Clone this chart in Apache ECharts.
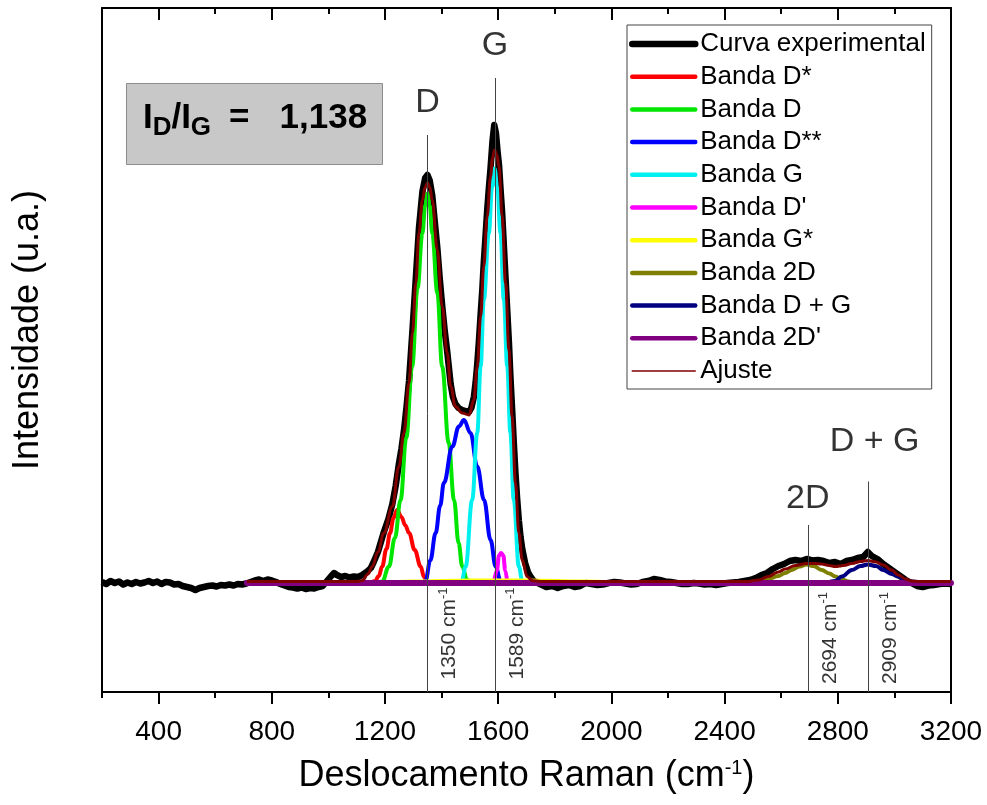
<!DOCTYPE html>
<html>
<head>
<meta charset="utf-8">
<title>Espectro Raman</title>
<script src="https://cdn.jsdelivr.net/npm/echarts@6/dist/echarts.min.js"></script>
<style>
  html, body { margin: 0; padding: 0; background: #fff; }
  #chart { width: 987px; height: 805px; }
</style>
</head>
<body>
<div id="chart"></div>
<script>
// Eixo x: deslocamento Raman (cm-1); eixo y: intensidade (u.a.), linha de base = 0
const xMin = 200;
const xMax = 3200;
const yMin = -218;
const yMax = 1150;
const majorTicks = [400, 800, 1200, 1600, 2000, 2400, 2800, 3200];

// curva experimental [cm-1, intensidade]
const experimental = [
  [200,2],[215,-2],[230,4],[245,0],[260,3],[275,-3],[290,1],[305,-2],[320,2],[335,-1],[350,1],[365,4],[380,0],[395,3],
  [410,-2],[425,2],[440,1],[455,-3],[470,-2],[485,-6],[500,-8],[515,-10],[530,-14],[545,-10],[560,-8],[575,-6],[590,-5],
  [605,-7],[620,-4],[635,-5],[650,-3],[665,-5],[680,-2],[695,-3],[710,-1],[725,2],[740,5],[755,7],[770,4],[785,7],[800,5],
  [815,2],[830,-2],[845,-5],[860,-8],[875,-9],[890,-11],[905,-9],[920,-12],[935,-10],[950,-11],[965,-8],[980,-6],[995,4],
  [1010,14],[1020,20],[1030,16],[1045,12],[1060,14],[1075,11],[1090,13],[1105,12],[1120,16],[1135,22],[1150,30],[1160,42],
  [1175,62],[1196,102],[1212,128],[1226,158],[1238,195],[1249,238],[1258,268],[1267,305],[1276,352],[1285,405],[1297,505],
  [1309,610],[1320,710],[1332,782],[1342,810],[1350,816],[1358,805],[1367,775],[1376,722],[1385,670],[1393,612],[1402,555],
  [1411,505],[1420,462],[1432,398],[1440,372],[1449,358],[1460,350],[1473,346],[1485,344],[1497,342],[1505,350],[1514,372],
  [1520,400],[1526,438],[1532,485],[1538,538],[1544,588],[1549,640],[1555,692],[1561,745],[1567,790],[1573,830],[1580,885],
  [1586,916],[1592,900],[1598,862],[1603,835],[1608,790],[1614,740],[1620,675],[1626,610],[1632,545],[1638,480],[1643,415],
  [1649,350],[1655,282],[1661,220],[1667,168],[1673,125],[1679,92],[1685,68],[1695,40],[1705,22],[1715,12],[1725,4],
  [1740,0],[1755,-4],[1770,-8],[1790,-6],[1810,-10],[1830,-6],[1850,-4],[1870,-8],[1890,-6],[1910,0],[1930,-2],[1950,-4],
  [1970,-3],[1990,0],[2010,2],[2030,1],[2050,-1],[2070,-3],[2090,-2],[2110,2],[2130,4],[2150,8],[2170,6],[2190,3],[2210,2],
  [2230,0],[2250,-2],[2270,-2],[2290,0],[2310,-1],[2330,-3],[2350,-2],[2370,-4],[2390,-2],[2410,0],[2430,1],[2450,2],
  [2470,4],[2490,6],[2510,10],[2530,16],[2550,20],[2570,28],[2590,34],[2610,38],[2630,44],[2650,46],[2670,44],[2690,48],
  [2710,45],[2730,46],[2750,44],[2770,40],[2790,42],[2810,38],[2830,44],[2850,46],[2870,50],[2890,52],[2906,62],[2920,54],
  [2940,48],[2960,38],[2980,30],[3000,22],[3020,14],[3040,6],[3060,0],[3080,-6],[3100,-8],[3120,-5],[3140,-4],[3160,-2],
  [3180,-1],[3200,-2]
];

// bandas ajustadas
const bandaDStar = [[1150,0],[1165,4],[1178,14],[1190,33],[1205,68],[1218,100],[1230,130],[1243,146],[1258,132],[1272,115],
  [1285,100],[1305,66],[1326,33],[1338,12],[1348,2],[1360,0]];
const bandaD = [[1170,0],[1190,3],[1214,33],[1235,90],[1255,166],[1275,290],[1296,433],[1315,590],[1332,699],[1342,755],
  [1350,779],[1358,755],[1367,699],[1385,580],[1402,433],[1425,280],[1444,166],[1460,80],[1473,33],[1490,6],[1510,0]];
const bandaDDouble = [[1330,0],[1343,4],[1360,45],[1379,100],[1395,155],[1408,200],[1438,273],[1461,313],[1479,326],
  [1502,300],[1526,233],[1550,166],[1573,86],[1591,33],[1608,5],[1620,0]];
const bandaG = [[1460,0],[1471,4],[1485,33],[1508,166],[1526,300],[1538,433],[1549,566],[1567,700],[1578,790],[1587,829],
  [1597,790],[1608,700],[1620,566],[1632,433],[1643,300],[1655,166],[1673,33],[1685,4],[1695,0]];
const bandaDPrime = [[1585,0],[1595,25],[1603,55],[1610,60],[1618,55],[1625,25],[1632,0]];
const bandaGStar = [[712,0],[1150,0],[1300,3],[1500,5],[1700,5],[1900,3],[2100,0],[3200,0]];
const banda2D = [[2480,0],[2520,3],[2554,8],[2590,14],[2614,20],[2637,26],[2665,33],[2690,37],[2715,34],[2743,26],
  [2770,19],[2791,13],[2815,7],[2838,3],[2860,0]];
const bandaDG = [[2760,0],[2790,4],[2814,13],[2850,26],[2880,34],[2906,37],[2935,34],[2961,26],[2990,18],[3014,13],
  [3040,6],[3061,3],[3100,0]];
const banda2DPrime = [[712,0],[1200,0],[1700,0],[2200,0],[2700,0],[3200,0]];
const ajuste = [[712,3],[1000,3],[1100,3],[1120,5],[1140,18],[1155,33],[1175,62],[1196,100],[1226,153],[1249,233],
  [1267,300],[1285,400],[1297,500],[1309,600],[1320,700],[1332,766],[1342,792],[1350,800],[1358,792],[1367,766],
  [1385,666],[1402,553],[1420,460],[1432,393],[1449,353],[1473,340],[1497,336],[1514,366],[1526,433],[1538,533],
  [1549,633],[1561,733],[1573,813],[1580,850],[1587,866],[1595,856],[1603,833],[1614,733],[1626,600],[1638,466],
  [1649,333],[1661,200],[1673,100],[1685,46],[1702,13],[1720,5],[1750,3],[2480,3],[2520,6],[2554,13],[2590,22],
  [2614,28],[2650,35],[2690,39],[2720,39],[2743,38],[2770,35],[2791,33],[2820,35],[2850,39],[2880,43],[2906,45],
  [2935,42],[2961,36],[2990,26],[3014,16],[3040,8],[3061,4],[3090,3],[3200,3]];

// posições dos picos (linhas verticais)
const peakNames = ['D', 'G', '2D', 'D + G'];
const peakPositions = [1350, 1589, 2694, 2909];
const peakLineTops = [896, 1010, 116, 203];
const peakLabelX = [1350, 1589, 2694, 2930];
const peakLabelY = [960, 1074, 168, 282];
const peakValueY = [-101, -101, -110, -110];

const FONT = "'Liberation Sans', Arial, sans-serif";

const bandas = [
  { name: 'Banda D*', data: bandaDStar, color: '#ff0000' },
  { name: 'Banda D', data: bandaD, color: '#00e600' },
  { name: 'Banda D**', data: bandaDDouble, color: '#0000ff' },
  { name: 'Banda G', data: bandaG, color: '#00f0f0' },
  { name: "Banda D'", data: bandaDPrime, color: '#ff00ff' },
  { name: 'Banda G*', data: bandaGStar, color: '#ffff00' },
  { name: 'Banda 2D', data: banda2D, color: '#808000' },
  { name: 'Banda D + G', data: bandaDG, color: '#000080' },
  { name: "Banda 2D'", data: banda2DPrime, color: '#800080', width: 6 }
];

const chart = echarts.init(document.getElementById('chart'), null, { renderer: 'canvas' });

const series = [];

// linhas verticais e textos dos picos
series.push({
  name: 'anotacoes',
  type: 'scatter',
  symbolSize: 1,
  itemStyle: { color: 'rgba(0,0,0,0)' },
  silent: true,
  data: peakNames.map((n, i) => ({ name: n, value: [peakLabelX[i], peakLabelY[i]] }))
    .concat(peakPositions.map((p, i) => ({
      name: String(p),
      value: [p, peakValueY[i]],
      label: {
        rotate: 90,
        offset: [0, 22],
        fontSize: 21,
        formatter: '{n|' + p + ' cm}{s|-1}',
        rich: {
          n: { fontSize: 21, fontFamily: FONT, color: '#000', lineHeight: 26 },
          s: { fontSize: 13, fontFamily: FONT, color: '#000', lineHeight: 13, verticalAlign: 'top' }
        }
      }
    }))),
  label: {
    show: true,
    position: 'inside',
    formatter: '{b}',
    fontFamily: FONT,
    fontSize: 34,
    color: '#000'
  },
  markLine: {
    silent: true,
    symbol: ['none', 'none'],
    label: { show: false },
    lineStyle: { color: '#444', width: 1, type: 'solid' },
    data: peakPositions.map((p, i) => [{ coord: [p, peakLineTops[i]] }, { coord: [p, yMin] }])
  }
});

series.push({
  name: 'Curva experimental',
  type: 'line',
  data: experimental,
  symbol: 'none',
  color: '#000',
  lineStyle: { color: '#000', width: 6.5, join: 'round' }
});

bandas.forEach(b => {
  series.push({
    name: b.name,
    type: 'line',
    data: b.data,
    symbol: 'none',
    smooth: 0.4,
    smoothMonotone: 'x',
    color: b.color,
    lineStyle: { color: b.color, width: b.width || 4, cap: 'round' }
  });
});

series.push({
  name: 'Ajuste',
  type: 'line',
  data: ajuste,
  symbol: 'none',
  smooth: 0.4,
  smoothMonotone: 'x',
  color: '#800000',
  lineStyle: { color: '#800000', width: 3 }
});

const legendNames = ['Curva experimental'].concat(bandas.map(b => b.name), ['Ajuste']);

const axisLineStyle = { onZero: false, lineStyle: { color: '#000', width: 2 } };
const tickStyle = { color: '#000', width: 2 };

chart.setOption({
  animation: false,
  textStyle: { fontFamily: FONT },
  grid: { left: 102, top: 8, width: 849, height: 684, containLabel: false },
  legend: {
    orient: 'vertical',
    left: 627,
    top: 25,
    padding: [6, 6, 5, 2],
    itemGap: 6.7,
    itemWidth: 63,
    itemHeight: 14,
    itemTextGap: 6,
    backgroundColor: '#fff',
    borderColor: '#444',
    borderWidth: 1,
    borderRadius: 0,
    itemStyle: { opacity: 0 },
    lineStyle: { width: 4.5, cap: 'round' },
    textStyle: { fontFamily: FONT, fontSize: 26, color: '#000', lineHeight: 26 },
    data: legendNames.map(n => {
      if (n === 'Curva experimental') return { name: n, lineStyle: { width: 6.5 } };
      if (n === 'Ajuste') return { name: n, lineStyle: { width: 1.5 } };
      return { name: n };
    })
  },
  xAxis: [
    {
      type: 'value', position: 'bottom', min: xMin, max: xMax, interval: 200,
      axisLine: axisLineStyle,
      axisTick: { show: true, inside: false, length: 6, lineStyle: tickStyle },
      axisLabel: {
        customValues: majorTicks,
        formatter: v => String(v),
        fontFamily: FONT, fontSize: 28, color: '#000', margin: 26
      },
      splitLine: { show: false },
      name: 'Deslocamento Raman (cm{s|-1})',
      nameLocation: 'middle',
      nameGap: 66,
      nameTextStyle: {
        fontFamily: FONT, fontSize: 36, color: '#000', lineHeight: 36,
        rich: { s: { fontFamily: FONT, fontSize: 20, color: '#000', lineHeight: 20, verticalAlign: 'top' } }
      }
    },
    {
      type: 'value', position: 'bottom', min: xMin, max: xMax,
      axisLine: { show: false, onZero: false },
      axisTick: { show: true, inside: false, length: 12, customValues: majorTicks, lineStyle: tickStyle },
      axisLabel: { show: false },
      splitLine: { show: false }
    },
    {
      type: 'value', position: 'top', min: xMin, max: xMax, interval: 200,
      axisLine: axisLineStyle,
      axisTick: { show: true, inside: true, length: 6, lineStyle: tickStyle },
      axisLabel: { show: false },
      splitLine: { show: false }
    },
    {
      type: 'value', position: 'top', min: xMin, max: xMax,
      axisLine: { show: false, onZero: false },
      axisTick: { show: true, inside: true, length: 12, customValues: majorTicks, lineStyle: tickStyle },
      axisLabel: { show: false },
      splitLine: { show: false }
    }
  ],
  yAxis: [
    {
      type: 'value', position: 'left', min: yMin, max: yMax,
      axisLine: { show: true, onZero: false, lineStyle: { color: '#000', width: 2 } },
      axisTick: { show: false },
      axisLabel: { show: false },
      splitLine: { show: false },
      name: 'Intensidade (u.a.)',
      nameLocation: 'middle',
      nameGap: 56,
      nameTextStyle: { fontFamily: FONT, fontSize: 36, color: '#000', padding: [0, 0, 0, 40] }
    },
    {
      type: 'value', position: 'right', min: yMin, max: yMax,
      axisLine: { show: true, onZero: false, lineStyle: { color: '#000', width: 2 } },
      axisTick: { show: false },
      axisLabel: { show: false },
      splitLine: { show: false }
    }
  ],
  graphic: [
    {
      type: 'rect',
      left: 126, top: 83,
      shape: { width: 256, height: 81 },
      style: { fill: '#c8c8c8', stroke: '#8c8c8c', lineWidth: 1 },
      z: 10
    },
    {
      type: 'text',
      x: 255, y: 118,
      z: 11,
      style: {
        text: '{m|I}{s|D}{m|/I}{s|G}{e|=}{m|1,138}',
        align: 'center',
        verticalAlign: 'middle',
        rich: {
          m: { fontFamily: FONT, fontWeight: 'bold', fontSize: 35, lineHeight: 46, fill: '#000', color: '#000' },
          s: { fontFamily: FONT, fontWeight: 'bold', fontSize: 26, lineHeight: 26, verticalAlign: 'bottom', fill: '#000', color: '#000' },
          e: { fontFamily: FONT, fontWeight: 'bold', fontSize: 35, lineHeight: 46, fill: '#000', color: '#000', padding: [0, 30, 0, 18] }
        }
      }
    }
  ],
  series: series
});
</script>
</body>
</html>
